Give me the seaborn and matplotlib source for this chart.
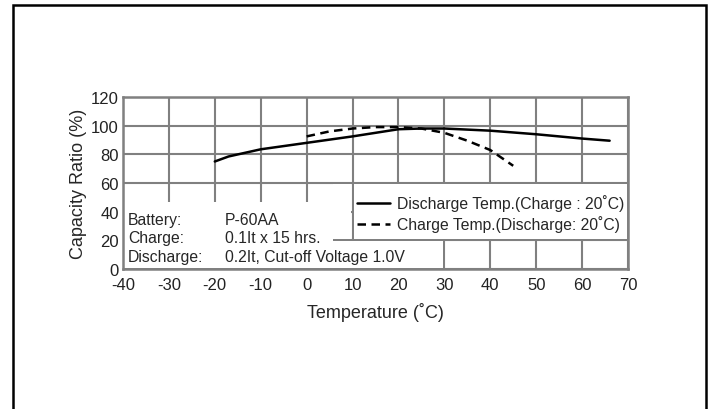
import matplotlib
matplotlib.use("Agg")
import matplotlib.pyplot as plt
from matplotlib.patches import Rectangle
import seaborn as sns

# discharge temperature curve (charge at 20C)
dis_temp = [-20, -17, -10, 0, 10, 20, 25, 30, 40, 50, 60, 66]
dis_cap = [75, 78.5, 83.5, 88, 92.5, 97.5, 98, 98, 96.5, 94, 91, 89.5]

# charge temperature curve (discharge at 20C)
chg_temp = [0, 5, 10, 15, 20, 25, 30, 35, 40, 45]
chg_cap = [92.5, 96, 98, 99, 99, 98, 95, 89.5, 83, 72]

x_ticks = [-40, -30, -20, -10, 0, 10, 20, 30, 40, 50, 60, 70]
y_ticks = [0, 20, 40, 60, 80, 100, 120]

info_keys = ["Battery:", "Charge:", "Discharge:"]
info_vals = ["P-60AA", "0.1It x 15 hrs.", "0.2It, Cut-off Voltage 1.0V"]

sns.set_style("white")
plt.rcParams['font.family'] = ['Liberation Sans', 'DejaVu Sans']
plt.rcParams['axes.unicode_minus'] = False

fig = plt.figure(figsize=(7.08, 4.10), dpi=100)
ax = fig.add_axes([0.1737, 0.3415, 0.7133, 0.4195])

grid_col = "#808080"
ax.set_xlim(-40, 70)
ax.set_ylim(0, 120)
ax.set_xticks(x_ticks)
ax.set_yticks(y_ticks)
ax.grid(True, color=grid_col, lw=1.5)
ax.set_axisbelow(True)
for s in ax.spines.values():
    s.set_color(grid_col)
    s.set_linewidth(1.8)
ax.tick_params(length=0, labelsize=12, colors="#222222")
ax.tick_params(axis="x", pad=6)
ax.tick_params(axis="y", pad=3)

# white boxes behind the notes and the legend
boxes = [(-40, 0.6, 45.8, 46.4), (-40, 0.6, 69.6, 18.8),
         (5.8, 21, 3.9, 38.2), (10.3, 21, 59.4, 38.2)]
for (x0, y0, w, h) in boxes:
    ax.add_patch(Rectangle((x0, y0), w, h, facecolor="white", edgecolor="none", zorder=1))

sns.lineplot(x=dis_temp, y=dis_cap, ax=ax, color="black", lw=1.8,
             label="Discharge Temp.(Charge : 20˚C)", zorder=3)
sns.lineplot(x=chg_temp, y=chg_cap, ax=ax, color="black", lw=1.8,
             linestyle=(0, (3.4, 2.2)), label="Charge Temp.(Discharge: 20˚C)", zorder=3)

ax.legend(loc="upper left", bbox_to_anchor=(0.463, 0.433), frameon=False,
          fontsize=11.3, handlelength=2.1, handletextpad=0.45,
          borderaxespad=0, borderpad=0, labelspacing=0.25)

for i, (k, v) in enumerate(zip(info_keys, info_vals)):
    yy = 0.29 - i * 0.108
    ax.text(0.01, yy, k, transform=ax.transAxes, fontsize=11.3, va="center", zorder=4)
    ax.text(0.202, yy, v, transform=ax.transAxes, fontsize=11.3, va="center", zorder=4)

ax.set_xlabel("Temperature (˚C)", fontsize=13, labelpad=7)
ax.set_ylabel("Capacity Ratio (%)", fontsize=13, labelpad=3)

fig.add_artist(Rectangle((13 / 708, -0.1), 693 / 708, 0.1 + 404 / 410,
                         transform=fig.transFigure, fill=False,
                         edgecolor="black", lw=1.8, clip_on=False))

fig.savefig("out.png", dpi=100)
